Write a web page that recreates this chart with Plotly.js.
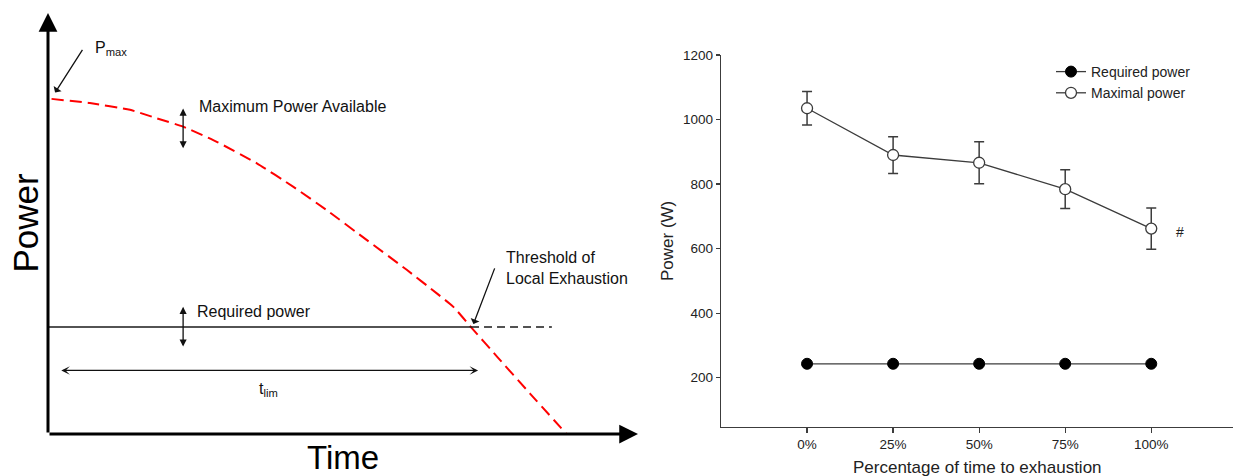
<!DOCTYPE html>
<html><head><meta charset="utf-8">
<script src="https://cdn.plot.ly/plotly-3.0.1.min.js"></script>
<style>html,body{margin:0;padding:0;background:#fff;}#chart{width:1233px;height:476px;}</style>
</head><body><div id="chart"></div>
<script>
// ---- Left schematic (arbitrary units: time 0-100, power 0-100) ----
const schemTime = [0.6, 7.1, 13.9, 18.4, 22.9, 28.6, 35.4, 41.6, 47.2, 54.0, 60.8, 65.9, 68.7, 71.5, 76.1, 81.7, 87.9];
const schemMaxPower = [79.6, 78.6, 77.0, 75.0, 73.0, 69.4, 64.3, 58.7, 53.2, 46.1, 39.0, 33.4, 30.2, 25.7, 18.4, 9.6, 0];
const requiredLevel = 25.4;
const tlimTime = 71.7;
const requiredDashEnd = 85.4;

// ---- Right chart ----
const categories = ['0%', '25%', '50%', '75%', '100%'];
const requiredPower = [243, 243, 243, 243, 243];
const maximalPower = [1035, 890, 866, 784, 662];
const maximalErr = [52, 57, 65, 60, 64];
const yTicks = [200, 400, 600, 800, 1000, 1200];

const W = 1233, H = 476;
const px = v => v / W;
const py = v => 1 - v / H;
const dark = '#3c3c3c';
const font = 'Liberation Sans, Arial, sans-serif';

const traces = [
  {x: categories, y: requiredPower, xaxis: 'x2', yaxis: 'y2', name: 'Required power',
   mode: 'lines+markers', line: {color: dark, width: 1.3},
   marker: {color: '#000', size: 11, line: {color: '#000', width: 1}}},
  {x: categories, y: maximalPower, xaxis: 'x2', yaxis: 'y2', name: 'Maximal power',
   mode: 'lines+markers', line: {color: dark, width: 1.3},
   marker: {color: '#fff', size: 11, line: {color: dark, width: 1.3}},
   error_y: {type: 'data', array: maximalErr, visible: true, color: dark, thickness: 1.5, width: 5}},
  {x: schemTime, y: schemMaxPower, xaxis: 'x', yaxis: 'y', showlegend: false, mode: 'lines',
   line: {color: '#ff0000', width: 2, dash: '12px,6px', shape: 'spline', smoothing: 0.5}, hoverinfo: 'skip'},
  {x: [0, tlimTime], y: [requiredLevel, requiredLevel], xaxis: 'x', yaxis: 'y', showlegend: false,
   mode: 'lines', line: {color: '#1a1a1a', width: 1.5}, hoverinfo: 'skip'},
  {x: [tlimTime, requiredDashEnd], y: [requiredLevel, requiredLevel], xaxis: 'x', yaxis: 'y', showlegend: false,
   mode: 'lines', line: {color: '#1a1a1a', width: 1.5, dash: '8px,5px'}, hoverinfo: 'skip'}
];

function arrow(x0, y0, x1, y1, opts) {
  return Object.assign({xref: 'x', yref: 'y', axref: 'x', ayref: 'y', x: x1, y: y1, ax: x0, ay: y0,
    text: '', showarrow: true, arrowcolor: '#111', arrowwidth: 1.3, arrowhead: 2, arrowsize: 1,
    standoff: 0, startstandoff: 0}, opts || {});
}
function label(x, y, text, opts) {
  return Object.assign({xref: 'x', yref: 'y', x: x, y: y, text: text, showarrow: false,
    xanchor: 'left', yanchor: 'middle', align: 'left', font: {family: font, size: 16, color: '#111'}}, opts || {});
}

const annotations = [
  // axes of schematic
  arrow(0, 0, 0, 100, {arrowwidth: 3, arrowsize: 1.25, arrowhead: 2, arrowcolor: '#000'}),
  arrow(0, 0, 100, 0, {arrowwidth: 3, arrowsize: 1.25, arrowhead: 2, arrowcolor: '#000'}),
  // P max pointer
  arrow(6.0, 91.6, 1.2, 81.1, {arrowhead: 1, arrowsize: 1.2}),
  label(7.6, 91.6, 'P<sub>max</sub>'),
  // Maximum power available
  arrow(22.9, 67.5, 22.9, 77.3, {arrowhead: 2, arrowsize: 1.1, startarrowhead: 2, startarrowsize: 1.1, arrowside: 'end+start'}),
  label(25.2, 77.7, 'Maximum Power Available'),
  // Required power
  arrow(22.9, 20.4, 22.9, 30.2, {arrowhead: 2, arrowsize: 1.1, startarrowhead: 2, startarrowsize: 1.1, arrowside: 'end+start'}),
  label(24.9, 29.2, 'Required power'),
  // t lim
  arrow(2.0, 15.1, 72.9, 15.1, {arrowhead: 3, arrowsize: 1.1, startarrowhead: 3, startarrowsize: 1.1, arrowside: 'end+start'}),
  label(37.3, 10.5, 't<sub>lim</sub>', {xanchor: 'center'}),
  // threshold
  arrow(75.8, 39.7, 72.1, 26.1, {arrowhead: 1, arrowsize: 1.2}),
  label(77.3, 39.5, 'Threshold of<br>Local Exhaustion'),
  // schematic axis titles
  {xref: 'paper', yref: 'paper', x: px(24.5), y: py(223), text: 'Power', textangle: -90, showarrow: false,
   xanchor: 'center', yanchor: 'middle', font: {family: font, size: 35, color: '#000'}},
  {xref: 'paper', yref: 'paper', x: px(343), y: py(457), text: 'Time', showarrow: false,
   xanchor: 'center', yanchor: 'middle', font: {family: font, size: 33, color: '#000'}},
  // right chart titles
  {xref: 'paper', yref: 'paper', x: px(977), y: py(467), text: 'Percentage of time to exhaustion', showarrow: false,
   xanchor: 'center', yanchor: 'middle', font: {family: font, size: 17, color: '#222'}},
  {xref: 'paper', yref: 'paper', x: px(667), y: py(241), text: 'Power (W)', textangle: -90, showarrow: false,
   xanchor: 'center', yanchor: 'middle', font: {family: font, size: 17, color: '#222'}},
  {xref: 'x2', yref: 'y2', x: categories[4], y: maximalPower[4], text: '#', showarrow: false,
   xshift: 29, yshift: -3, font: {family: font, size: 14, color: '#222'}}
];

const layout = {
  width: W, height: H, autosize: false,
  margin: {l: 0, r: 0, t: 0, b: 0, pad: 0},
  paper_bgcolor: '#fff', plot_bgcolor: 'rgba(0,0,0,0)',
  font: {family: font, color: '#222'},
  showlegend: true,
  legend: {x: px(1051), y: py(56), xanchor: 'left', yanchor: 'top', bgcolor: 'rgba(0,0,0,0)',
           font: {family: font, size: 14, color: '#222'}, tracegroupgap: 0},
  xaxis: {domain: [px(48), px(638)], range: [0, 100], visible: false, fixedrange: true},
  yaxis: {domain: [py(434), py(13)], range: [0, 100], visible: false, fixedrange: true},
  xaxis2: {domain: [px(721), 1], anchor: 'y2', type: 'category', range: [-1, 4.95],
           showline: true, linecolor: dark, linewidth: 1.3, ticks: 'outside', ticklen: 5, tickcolor: dark,
           tickwidth: 1.2, showgrid: false, zeroline: false, tickfont: {family: font, size: 13.5, color: '#222'}},
  yaxis2: {domain: [py(426.7), py(55)], anchor: 'x2', range: [48, 1200], tickvals: yTicks,
           showline: true, linecolor: dark, linewidth: 1.3, ticks: 'outside', ticklen: 4, tickcolor: dark,
           tickwidth: 1.2, showgrid: false, zeroline: false, tickfont: {family: font, size: 13.5, color: '#222'}},
  annotations: annotations
};

Plotly.newPlot('chart', traces, layout, {displayModeBar: false, staticPlot: true});
</script>
</body></html>
